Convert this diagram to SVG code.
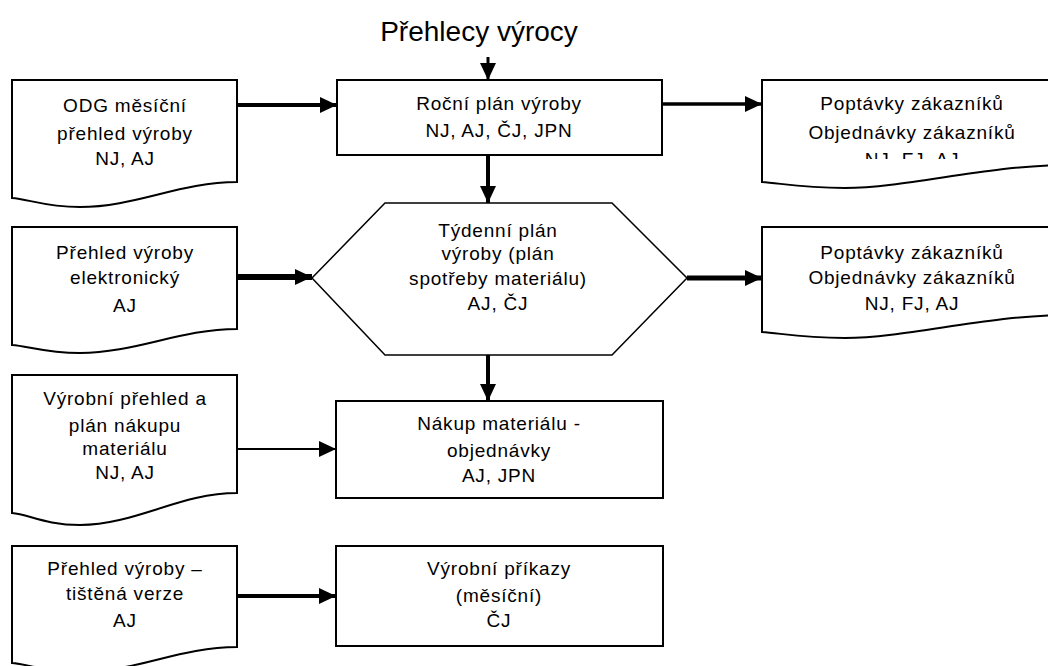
<svg xmlns="http://www.w3.org/2000/svg" width="1048" height="666" viewBox="0 0 1048 666">
  <style>
    .shape { fill: #ffffff; stroke: #000000; stroke-width: 2; }
    .hex { fill: #ffffff; stroke: #000000; stroke-width: 1.5; }
    .t { font-family: "Liberation Sans", Arial, sans-serif; font-size: 19px; fill: #000000; text-anchor: middle; letter-spacing: 0.8px; }
    .title { font-family: "Liberation Sans", Arial, sans-serif; font-size: 28px; fill: #000000; text-anchor: middle; }
    .c { fill: none; stroke: #000000; }
  </style>
  <defs>
    <marker id="ah" markerUnits="userSpaceOnUse" markerWidth="18" markerHeight="16" refX="17" refY="8" orient="auto">
      <path d="M0,0 L17,8 L0,16 Z" fill="#000000"/>
    </marker>
    <clipPath id="clipTopRight">
      <rect x="700" y="60" width="360" height="99"/>
    </clipPath>
  </defs>
  <rect width="1048" height="666" fill="#ffffff"/>

  <g id="title">
    <text class="title" x="479" y="41">Přehlecy výrocy</text>
  </g>

  <g id="doc-odg">
    <path class="shape" d="M12,80 H237 V182 C180,182 135,207 80,207 C45,207 28,199 12,198 Z"/>
    <text class="t" x="125" y="112">ODG měsíční</text>
    <text class="t" x="125" y="140">přehled výroby</text>
    <text class="t" x="125" y="165">NJ, AJ</text>
  </g>

  <g id="rocni-plan">
    <rect class="shape" x="337" y="80" width="325" height="75"/>
    <text class="t" x="499" y="110">Roční plán výroby</text>
    <text class="t" x="499" y="137">NJ, AJ, ČJ, JPN</text>
  </g>

  <g id="doc-poptavky-1">
    <path class="shape" d="M762,80 H1062 V165 C985,166 905,188 845,188 C800,188 780,183 762,182 Z"/>
    <g clip-path="url(#clipTopRight)">
      <text class="t" x="912" y="110">Poptávky zákazníků</text>
      <text class="t" x="912" y="139">Objednávky zákazníků</text>
      <text class="t" x="912" y="166">NJ, FJ, AJ</text>
    </g>
  </g>

  <g id="doc-elektronicky">
    <path class="shape" d="M12,227 H237 V329 C180,329 135,353 80,353 C45,353 28,346 12,345 Z"/>
    <text class="t" x="125" y="259">Přehled výroby</text>
    <text class="t" x="125" y="284">elektronický</text>
    <text class="t" x="125" y="312">AJ</text>
  </g>

  <g id="tydenni-plan">
    <polygon class="hex" points="385,203 612,203 687,278 612,355 385,355 312,278"/>
    <text class="t" x="498" y="237">Týdenní plán</text>
    <text class="t" x="498" y="260">výroby (plán</text>
    <text class="t" x="498" y="285">spotřeby materiálu)</text>
    <text class="t" x="498" y="310">AJ, ČJ</text>
  </g>

  <g id="doc-poptavky-2">
    <path class="shape" d="M762,227 H1062 V315 C985,316 905,338 845,338 C800,338 780,333 762,332 Z"/>
    <text class="t" x="912" y="259">Poptávky zákazníků</text>
    <text class="t" x="912" y="284">Objednávky zákazníků</text>
    <text class="t" x="912" y="310">NJ, FJ, AJ</text>
  </g>

  <g id="doc-vyrobni-prehled">
    <path class="shape" d="M12,375 H237 V493 C180,493 135,525 80,525 C45,525 28,514 12,513 Z"/>
    <text class="t" x="125" y="405">Výrobní přehled a</text>
    <text class="t" x="125" y="432">plán nákupu</text>
    <text class="t" x="125" y="455">materiálu</text>
    <text class="t" x="125" y="479">NJ, AJ</text>
  </g>

  <g id="nakup-materialu">
    <rect class="shape" x="336" y="401" width="327" height="97"/>
    <text class="t" x="499" y="430">Nákup materiálu -</text>
    <text class="t" x="499" y="457">objednávky</text>
    <text class="t" x="499" y="482">AJ, JPN</text>
  </g>

  <g id="doc-tistena">
    <path class="shape" d="M12,546 H237 V647 C180,647 135,672 80,672 C45,672 28,664 12,663 Z"/>
    <text class="t" x="125" y="575">Přehled výroby –</text>
    <text class="t" x="125" y="600">tištěná verze</text>
    <text class="t" x="125" y="627">AJ</text>
  </g>

  <g id="vyrobni-prikazy">
    <rect class="shape" x="336" y="546" width="327" height="100"/>
    <text class="t" x="499" y="575">Výrobní příkazy</text>
    <text class="t" x="499" y="602">(měsíční)</text>
    <text class="t" x="499" y="627">ČJ</text>
  </g>

  <g id="connectors">
    <line class="c" x1="488" y1="57" x2="488" y2="80" stroke-width="3" marker-end="url(#ah)"/>
    <line class="c" x1="237" y1="105" x2="337" y2="105" stroke-width="4" marker-end="url(#ah)"/>
    <line class="c" x1="662" y1="104" x2="762" y2="104" stroke-width="3.5" marker-end="url(#ah)"/>
    <line class="c" x1="488" y1="155" x2="488" y2="203" stroke-width="4" marker-end="url(#ah)"/>
    <line class="c" x1="237" y1="277" x2="312" y2="277" stroke-width="6" marker-end="url(#ah)"/>
    <line class="c" x1="687" y1="278" x2="762" y2="278" stroke-width="5" marker-end="url(#ah)"/>
    <line class="c" x1="488" y1="355" x2="488" y2="401" stroke-width="4" marker-end="url(#ah)"/>
    <line class="c" x1="237" y1="449" x2="336" y2="449" stroke-width="2" marker-end="url(#ah)"/>
    <line class="c" x1="237" y1="596" x2="336" y2="596" stroke-width="4" marker-end="url(#ah)"/>
  </g>
</svg>
